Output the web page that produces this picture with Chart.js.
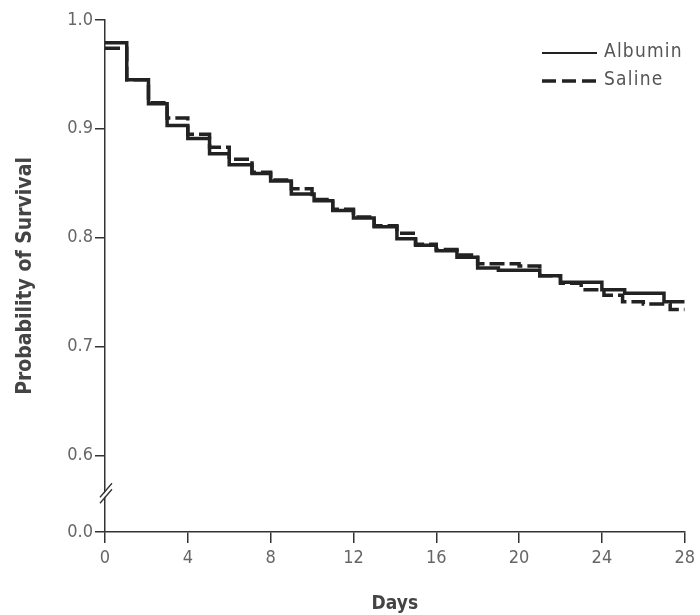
<!DOCTYPE html>
<html>
<head>
<meta charset="utf-8">
<script src="https://cdn.jsdelivr.net/npm/chart.js@4/dist/chart.umd.min.js"></script>
<style>
    html, body { margin: 0; padding: 0; background: #ffffff; }
    #wrap { width: 700px; height: 615px; }
</style>
</head>
<body>
<div id="wrap"><canvas id="survivalChart" width="700" height="615"></canvas></div>
<script>
// Kaplan-Meier steps: day of each drop and the survival after it
const albuminDays = [0, 1.05, 2.1, 3, 4, 5.05, 6, 7.1, 8, 9, 10.1, 11, 12, 13, 14.1, 15, 16, 17, 18, 19, 21, 22, 24, 25.1, 27, 28];
const albuminSurvival = [0.979, 0.945, 0.923, 0.903, 0.891, 0.877, 0.867, 0.859, 0.852, 0.840, 0.834, 0.825, 0.818, 0.810, 0.799, 0.793, 0.788, 0.782, 0.772, 0.770, 0.765, 0.759, 0.752, 0.749, 0.741, 0.741];

const salineDays = [0, 1.05, 2.1, 3, 4, 5.05, 6, 7.1, 8, 9, 10, 11, 12, 13, 14.1, 15, 16, 17, 18, 20, 21, 22, 23, 24.1, 25, 26, 27.3, 28];
const salineSurvival = [0.974, 0.945, 0.924, 0.910, 0.895, 0.883, 0.872, 0.860, 0.853, 0.845, 0.835, 0.826, 0.819, 0.811, 0.804, 0.794, 0.789, 0.784, 0.776, 0.774, 0.765, 0.758, 0.752, 0.747, 0.741, 0.739, 0.734, 0.734];

const seriesLabels = ['Albumin', 'Saline'];
const xTicks = [0, 4, 8, 12, 16, 20, 24, 28];
const yTicks = [0.6, 0.7, 0.8, 0.9, 1.0];
// the axis is broken: the bottom tick stands for 0.0
const yBreakBase = 0.5295;
const yBreakMark = 0.566;
const yBreakLabel = '0.0';

const FONT = "'DejaVu Sans Condensed', 'DejaVu Sans', sans-serif";
const INK = '#222222';

function toPoints(days, values) {
    return days.map((d, i) => ({ x: d, y: values[i] }));
}

// draws the in-plot legend and the // mark on the y axis
const extrasPlugin = {
    id: 'extras',
    afterDraw(chart) {
        const ctx = chart.ctx;
        const yScale = chart.scales.y;
        const axisX = chart.chartArea.left;
        const by = yScale.getPixelForValue(yBreakMark);

        ctx.save();
        // break mark
        ctx.fillStyle = '#ffffff';
        ctx.beginPath();
        ctx.moveTo(axisX - 5, by + 6);
        ctx.lineTo(axisX + 7, by - 8);
        ctx.lineTo(axisX + 7, by - 4);
        ctx.lineTo(axisX - 5, by + 10);
        ctx.closePath();
        ctx.fill();
        ctx.strokeStyle = '#333333';
        ctx.lineWidth = 1.3;
        ctx.beginPath();
        ctx.moveTo(axisX - 5, by + 5);
        ctx.lineTo(axisX + 7, by - 9);
        ctx.moveTo(axisX - 5, by + 11);
        ctx.lineTo(axisX + 7, by - 3);
        ctx.stroke();

        // legend
        const lx = 542, lw = 55;
        ctx.strokeStyle = INK;
        ctx.lineWidth = 2;
        ctx.setLineDash([]);
        ctx.beginPath();
        ctx.moveTo(lx, 53);
        ctx.lineTo(lx + lw, 53);
        ctx.stroke();
        ctx.lineWidth = 3.5;
        ctx.setLineDash([14, 6]);
        ctx.beginPath();
        ctx.moveTo(lx, 81);
        ctx.lineTo(lx + lw, 81);
        ctx.stroke();
        ctx.setLineDash([]);

        ctx.fillStyle = '#555555';
        ctx.font = '19px ' + FONT;
        ctx.letterSpacing = '1.2px';
        ctx.textAlign = 'left';
        ctx.textBaseline = 'middle';
        ctx.fillText(seriesLabels[0], 604, 52);
        ctx.fillText(seriesLabels[1], 604, 80);
        ctx.restore();
    }
};

const ctx = document.getElementById('survivalChart').getContext('2d');
const chart = new Chart(ctx, {
    type: 'line',
    data: {
        datasets: [
            {
                label: seriesLabels[0],
                data: toPoints(albuminDays, albuminSurvival),
                borderColor: INK,
                borderWidth: 3.5,
                stepped: true,
                pointRadius: 0,
                fill: false
            },
            {
                label: seriesLabels[1],
                data: toPoints(salineDays, salineSurvival),
                borderColor: INK,
                borderWidth: 3.5,
                borderDash: [15, 5],
                stepped: true,
                pointRadius: 0,
                fill: false
            }
        ]
    },
    options: {
        responsive: false,
        animation: false,
        layout: { padding: { top: 20, right: 13, left: 0, bottom: 0 } },
        plugins: {
            legend: { display: false },
            tooltip: { enabled: false }
        },
        scales: {
            x: {
                type: 'linear',
                min: 0,
                max: 28,
                afterBuildTicks: (scale) => {
                    scale.ticks = xTicks.map(v => ({ value: v }));
                },
                afterFit: (scale) => { scale.height = 83; },
                border: { display: true, color: '#333333', width: 1.5 },
                grid: { drawOnChartArea: false, drawTicks: true, tickLength: 11, color: '#333333', lineWidth: 1.5 },
                ticks: {
                    color: '#666666',
                    font: { family: FONT, size: 18 },
                    padding: 5,
                    maxRotation: 0
                },
                title: {
                    display: true,
                    text: 'Days',
                    color: '#444444',
                    font: { family: FONT, size: 19, weight: 'bold' },
                    padding: { top: 0, bottom: 0 }
                }
            },
            y: {
                type: 'linear',
                min: yBreakBase,
                max: 1.0,
                afterBuildTicks: (scale) => {
                    scale.ticks = [yBreakBase].concat(yTicks).map(v => ({ value: v }));
                },
                afterFit: (scale) => { scale.width = 105; },
                border: { display: true, color: '#333333', width: 1.5 },
                grid: { drawOnChartArea: false, drawTicks: true, tickLength: 10, color: '#333333', lineWidth: 1.5 },
                ticks: {
                    color: '#666666',
                    font: { family: FONT, size: 18 },
                    padding: 2,
                    callback: (v) => v < yTicks[0] - 0.01 ? yBreakLabel : v.toFixed(1)
                },
                title: {
                    display: true,
                    text: 'Probability of Survival',
                    color: '#444444',
                    font: { family: FONT, size: 21, weight: 'bold' },
                    padding: { top: 13, bottom: 0 }
                }
            }
        }
    },
    plugins: [extrasPlugin]
});
</script>
</body>
</html>
